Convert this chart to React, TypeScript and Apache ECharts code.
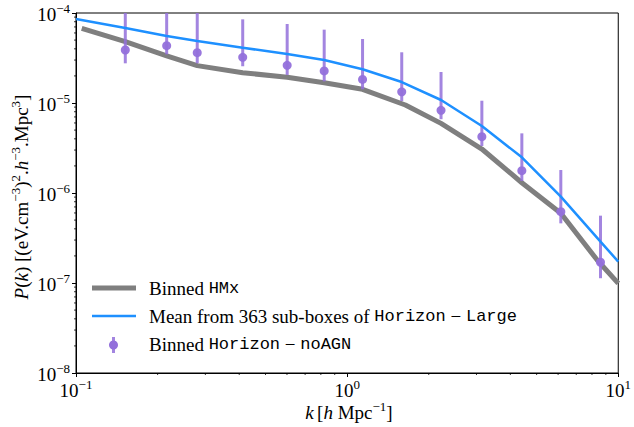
import React, { useEffect, useRef } from "react";
import * as echarts from "echarts";

// Binned Horizon-noAGN (points with error bars)
const kPts = [0.152, 0.216, 0.28, 0.412, 0.601, 0.823, 1.14, 1.59, 2.22, 3.14, 4.41, 6.14, 8.6];
const pPts = [3.88e-5, 4.33e-5, 3.62e-5, 3.22e-5, 2.62e-5, 2.27e-5, 1.83e-5, 1.33e-5, 8.3e-6, 4.23e-6, 1.77e-6, 6.2e-7, 1.7e-7];
const pLo = [2.76e-5, 3.47e-5, 2.76e-5, 2.56e-5, 2.05e-5, 1.74e-5, 1.42e-5, 1.05e-5, 6.6e-6, 3.33e-6, 1.36e-6, 4.6e-7, 1.13e-7];
const pHi = [1.3e-4, 1.3e-4, 1.3e-4, 8.5e-5, 7.55e-5, 6.53e-5, 5.14e-5, 3.66e-5, 2.21e-5, 1.06e-5, 4.6e-6, 1.8e-6, 5.6e-7];

// Binned HMx
const kHmx = [0.105, 0.152, 0.216, 0.28, 0.412, 0.601, 0.823, 1.14, 1.64, 2.22, 3.14, 4.41, 6.14, 8.36, 10];
const pHmx = [6.76e-5, 4.8e-5, 3.33e-5, 2.6e-5, 2.17e-5, 1.93e-5, 1.68e-5, 1.42e-5, 9.5e-6, 5.94e-6, 3.08e-6, 1.3e-6, 5.95e-7, 1.8e-7, 9.9e-8];

// Mean from 363 sub-boxes of Horizon-Large
const kMean = [0.1, 0.152, 0.216, 0.28, 0.412, 0.601, 0.823, 1.14, 1.59, 2.22, 3.14, 4.41, 6.14, 8.6, 10];
const pMean = [8.58e-5, 6.81e-5, 5.55e-5, 4.89e-5, 4.11e-5, 3.5e-5, 3.01e-5, 2.37e-5, 1.71e-5, 1.08e-5, 5.55e-6, 2.49e-6, 9.1e-7, 2.88e-7, 1.73e-7];

// axis ranges / minor ticks
const xRange = [0.1, 10];
const yRange = [1e-8, 1e-4];
const xMinor = [0.2, 0.3, 0.4, 0.5, 0.6, 0.7, 0.8, 0.9, 2, 3, 4, 5, 6, 7, 8, 9];
const yDecades = [1e-8, 1e-7, 1e-6, 1e-5];
const mult = [2, 3, 4, 5, 6, 7, 8, 9];

const SERIF = "'Liberation Serif', 'Times New Roman', serif";
const MONO = "'Liberation Mono', 'DejaVu Sans Mono', monospace";
const GRAY = "#7f7f7f";
const BLUE = "#1e90ff";
const PURPLE = "#9370db";

const supStyle = (size: number) => ({ fontSize: size, fontFamily: SERIF, color: "#000", verticalAlign: "top" as const, lineHeight: 22 });

export default function App() {
  const ref = useRef<HTMLDivElement>(null);
  useEffect(() => {
    if (!ref.current) return;
    const chart = echarts.init(ref.current, undefined, { renderer: "svg" });
    const minorData: number[][] = [];
    xMinor.forEach((k) => minorData.push([k, yRange[0], 0]));
    yDecades.forEach((d) => mult.forEach((m) => minorData.push([xRange[0], d * m, 1])));

    const tickRich = {
      b: { fontSize: 19, fontFamily: SERIF, color: "#000", verticalAlign: "bottom" as const, lineHeight: 22 },
      s: supStyle(13),
    };
    const fmt = (v: number) => {
      const e = Math.round(Math.log10(v));
      return `{b|10}{s|${e < 0 ? "\u2212" + -e : e}}`;
    };

    const baseRich = {
      n: { fontSize: 19, fontFamily: SERIF, color: "#000", verticalAlign: "bottom" as const, lineHeight: 22 },
      i: { fontSize: 19, fontFamily: SERIF, fontStyle: "italic" as const, color: "#000", verticalAlign: "bottom" as const, lineHeight: 22 },
      s: supStyle(13),
    };
    const legRich = {
      n: { fontSize: 19, fontFamily: SERIF, color: "#000" },
      m: { fontSize: 17, fontFamily: MONO, color: "#000" },
    };

    chart.setOption({
      animation: false,
      grid: { left: 76, right: 11, top: 13, bottom: 54, show: true, borderColor: "#000", borderWidth: 1, backgroundColor: "transparent" },
      xAxis: {
        type: "log",
        logBase: 10,
        min: xRange[0],
        max: xRange[1],
        axisLine: { lineStyle: { color: "#000", width: 1 } },
        axisTick: { show: true, length: 4, inside: false, lineStyle: { color: "#000" } },
        splitLine: { show: false },
        axisLabel: { formatter: fmt, rich: tickRich, margin: 5, color: "#000" },
      },
      yAxis: {
        type: "log",
        logBase: 10,
        min: yRange[0],
        max: yRange[1],
        axisLine: { lineStyle: { color: "#000", width: 1 } },
        axisTick: { show: true, length: 4, inside: false, lineStyle: { color: "#000" } },
        splitLine: { show: false },
        axisLabel: { formatter: fmt, rich: tickRich, margin: 6, color: "#000" },
      },
      series: [
        {
          type: "custom",
          name: "minorTicks",
          clip: false,
          silent: true,
          data: minorData,
          renderItem: (params: any, api: any) => {
            const p = api.coord([api.value(0), api.value(1)]);
            const isY = api.value(2) === 1;
            return {
              type: "line",
              shape: isY ? { x1: p[0] - 2, y1: p[1], x2: p[0], y2: p[1] } : { x1: p[0], y1: p[1], x2: p[0], y2: p[1] + 2 },
              style: { stroke: "#000", lineWidth: 0.8 },
            };
          },
          z: 1,
        },
        {
          type: "line",
          name: "Binned HMx",
          data: kHmx.map((k, i) => [k, pHmx[i]]),
          showSymbol: false,
          symbol: "none",
          lineStyle: { color: GRAY, width: 5 },
          z: 2,
        },
        {
          type: "custom",
          name: "errbars",
          clip: true,
          data: kPts.map((k, i) => [k, pLo[i], pHi[i]]),
          renderItem: (params: any, api: any) => {
            const a = api.coord([api.value(0), api.value(1)]);
            const b = api.coord([api.value(0), api.value(2)]);
            return {
              type: "line",
              shape: { x1: a[0], y1: a[1], x2: b[0], y2: b[1] },
              style: { stroke: PURPLE, lineWidth: 3, opacity: 0.85 },
            };
          },
          z: 3,
        },
        {
          type: "scatter",
          name: "Binned Horizon-noAGN",
          data: kPts.map((k, i) => [k, pPts[i]]),
          symbol: "circle",
          symbolSize: 9,
          itemStyle: { color: PURPLE, opacity: 0.95 },
          z: 4,
        },
        {
          type: "line",
          name: "Mean",
          data: kMean.map((k, i) => [k, pMean[i]]),
          showSymbol: false,
          symbol: "none",
          lineStyle: { color: BLUE, width: 2.5 },
          z: 5,
        },
      ],
      graphic: [
        {
          type: "text",
          x: 349,
          y: 411,
          style: {
            text: "{i|k} {n|[}{i|h}{n| Mpc}{s|\u22121}{n|]}",
            rich: baseRich,
            align: "center",
            verticalAlign: "middle",
          },
        },
        {
          type: "text",
          x: 20,
          y: 197,
          rotation: Math.PI / 2,
          style: {
            text: "{i|P}{n|(}{i|k}{n|) [(eV.cm}{s|\u22123}{n|)}{s|2}{n|.}{i|h}{s|\u22123}{n|.Mpc}{s|3}{n|]}",
            rich: baseRich,
            align: "center",
            verticalAlign: "middle",
          },
        },
        // legend
        { type: "line", shape: { x1: 92, y1: 288, x2: 136, y2: 288 }, style: { stroke: GRAY, lineWidth: 5 } },
        { type: "text", x: 149, y: 288, style: { text: "{n|Binned }{m|HMx}", rich: legRich, verticalAlign: "middle" } },
        { type: "line", shape: { x1: 92, y1: 316, x2: 136, y2: 316 }, style: { stroke: BLUE, lineWidth: 2.5 } },
        { type: "text", x: 149, y: 316, style: { text: "{n|Mean from 363 sub-boxes of }{m|Horizon}{n| \u2212 }{m|Large}", rich: legRich, verticalAlign: "middle" } },
        { type: "line", shape: { x1: 113.5, y1: 337, x2: 113.5, y2: 353 }, style: { stroke: PURPLE, lineWidth: 3, opacity: 0.85 } },
        { type: "circle", shape: { cx: 113.5, cy: 345, r: 4.5 }, style: { fill: PURPLE } },
        { type: "text", x: 149, y: 344, style: { text: "{n|Binned }{m|Horizon}{n| \u2212 }{m|noAGN}", rich: legRich, verticalAlign: "middle" } },
      ],
    });
    return () => chart.dispose();
  }, []);
  return <div ref={ref} style={{ width: 634, height: 427, position: "absolute", left: 0, top: 0 }} />;
}
